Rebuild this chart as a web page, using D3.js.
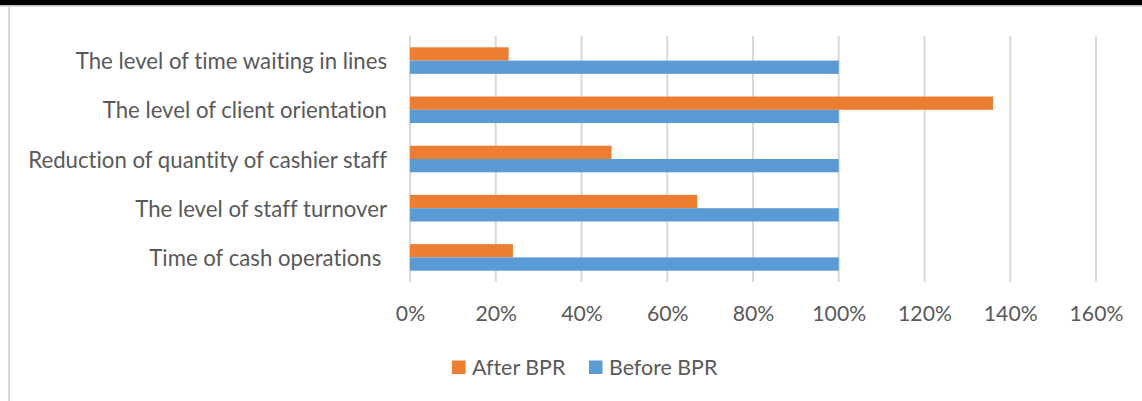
<!DOCTYPE html>
<html>
<head>
<meta charset="utf-8">
<script src="https://cdn.jsdelivr.net/npm/d3@7"></script>
<style>
  html, body { margin: 0; padding: 0; background: #fff; }
  svg text { font-family: Lato, "Open Sans", sans-serif; fill: #595959; white-space: pre;
             font-variant-ligatures: none; font-feature-settings: "liga" 0, "clig" 0; }
</style>
</head>
<body>
<svg id="chart" width="1142" height="401"></svg>
<script>
// Categories, top to bottom
const categories = [
  "The level of time waiting in lines",
  "The level of client orientation",
  "Reduction of quantity of cashier staff",
  "The level of staff turnover",
  "Time of cash operations "
];
const seriesNames = ["After BPR", "Before BPR"];
const afterBPR  = [23, 136, 47, 67, 24];
const beforeBPR = [100, 100, 100, 100, 100];
const tickValues = [0, 20, 40, 60, 80, 100, 120, 140, 160];
const colors = ["#ED7D31", "#5B9BD5"];

const svg = d3.select("#chart");
const W = 1142, H = 401;

// Frame: heavy rule on top with a thin grey line beneath, thin grey left border
svg.append("rect").attr("x", 0).attr("y", 0).attr("width", W).attr("height", 5).attr("fill", "#000");
svg.append("rect").attr("x", 0).attr("y", 5).attr("width", W).attr("height", 1.5).attr("fill", "#bfbfbf");
svg.append("rect").attr("x", 8).attr("y", 6).attr("width", 2).attr("height", H - 6).attr("fill", "#d9d9d9");

const plot = { left: 410, right: 1096, top: 36, bottom: 282 };

const x = d3.scaleLinear().domain([0, 160]).range([plot.left, plot.right]);
const y = d3.scaleBand().domain(categories).range([plot.top, plot.bottom])
  .paddingInner(0.46).paddingOuter(0.23);
const ySub = d3.scaleBand().domain(seriesNames).range([0, y.bandwidth()]);

// Vertical gridlines
svg.append("g").selectAll("line").data(tickValues).join("line")
  .attr("x1", d => x(d)).attr("x2", d => x(d))
  .attr("y1", plot.top).attr("y2", plot.bottom)
  .attr("stroke", "#d9d9d9").attr("stroke-width", 2);

// Bars
const rows = categories.map((c, i) => ({ cat: c, vals: [afterBPR[i], beforeBPR[i]] }));
const groups = svg.append("g").selectAll("g").data(rows).join("g")
  .attr("transform", d => `translate(0,${y(d.cat)})`);
groups.selectAll("rect").data(d => d.vals.map((v, j) => ({ name: seriesNames[j], v, j })))
  .join("rect")
  .attr("x", x(0))
  .attr("y", d => ySub(d.name))
  .attr("width", d => x(d.v) - x(0))
  .attr("height", ySub.bandwidth())
  .attr("fill", d => colors[d.j]);

// Category labels
svg.append("g").selectAll("text").data(categories).join("text")
  .attr("x", plot.left - 23)
  .attr("y", d => y(d) + y.bandwidth() / 2)
  .attr("text-anchor", "end")
  .attr("dominant-baseline", "central")
  .attr("font-size", 22.2)
  .text(d => d);

// X axis tick labels
const xAxis = d3.axisBottom(x).tickValues(tickValues).tickSize(0).tickPadding(0)
  .tickFormat(d => d + "%");
const ax = svg.append("g").attr("transform", `translate(0,${plot.bottom})`).call(xAxis);
ax.select(".domain").remove();
ax.selectAll("text")
  .attr("y", 31).attr("dy", null)
  .attr("dominant-baseline", "central")
  .attr("font-size", 21.2)
  .attr("font-family", null)
  .style("fill", "#595959");

// Legend
const legend = svg.append("g");
const legendItems = [
  { name: seriesNames[0], color: colors[0], x: 452 },
  { name: seriesNames[1], color: colors[1], x: 589 }
];
const li = legend.selectAll("g").data(legendItems).join("g")
  .attr("transform", d => `translate(${d.x},367)`);
li.append("rect").attr("x", 0).attr("y", -6.5).attr("width", 13.5).attr("height", 13.5).attr("fill", d => d.color);
li.append("text").attr("x", 20).attr("y", 0).attr("dominant-baseline", "central")
  .attr("font-size", 21.4).text(d => d.name);
</script>
</body>
</html>
